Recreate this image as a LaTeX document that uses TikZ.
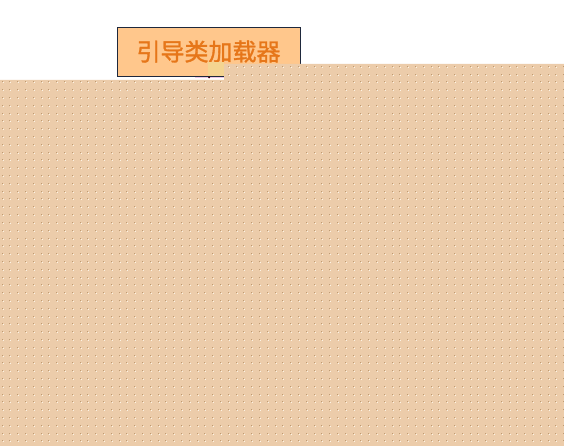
\documentclass[tikz,border=0pt]{standalone}
\usepackage{fontspec}
\newfontfamily\cjk[FakeBold=1.3]{Noto Sans CJK SC}
\definecolor{boxfill}{RGB}{255,199,140}
\definecolor{boxline}{RGB}{30,40,60}
\definecolor{txtorange}{RGB}{230,118,25}
\definecolor{tanfill}{RGB}{236,204,170}
\definecolor{dotbrown}{RGB}{190,155,115}
\definecolor{dotlight}{RGB}{252,244,230}
\definecolor{stripyellow}{RGB}{244,212,145}
\definecolor{pinkline}{RGB}{235,200,230}
\tikzset{
  loaderbox/.style={draw=boxline, line width=0.8pt, fill=boxfill, minimum width=183pt, minimum height=49pt, inner sep=0pt, text=txtorange, font=\cjk\fontsize{24pt}{24pt}\selectfont},
}
\begin{document}
\begin{tikzpicture}[x=1pt,y=-1pt]
\useasboundingbox (0,0) rectangle (564,446);
\fill[white] (0,0) rectangle (564,446);
\node[loaderbox] (boot) at (208.5,51.5) {引导类加载器};
\fill[stripyellow] (208,62) rectangle (224,76);
\coordinate (tip) at (209,77.5);
\draw[pinkline, line width=1.2pt] (195,77.8) -- (224,77.8);
\fill[black!70!purple] (tip) circle (1pt);
\begin{scope}
\clip (0,80) -- (224,80) -- (224,64) -- (564,64) -- (564,446) -- (0,446) -- cycle;
\fill[tanfill] (0,0) rectangle (564,446);
\foreach \i in {0,...,72} {
  \foreach \j in {0,...,56} {
    \fill[dotbrown] ({1.5+7.8*\i},{3.5+7.8*\j}) rectangle ++(1,1);
    \fill[dotlight] ({2.5+7.8*\i},{4.5+7.8*\j}) rectangle ++(1,1);
  }
}
\end{scope}
\end{tikzpicture}
\end{document}
